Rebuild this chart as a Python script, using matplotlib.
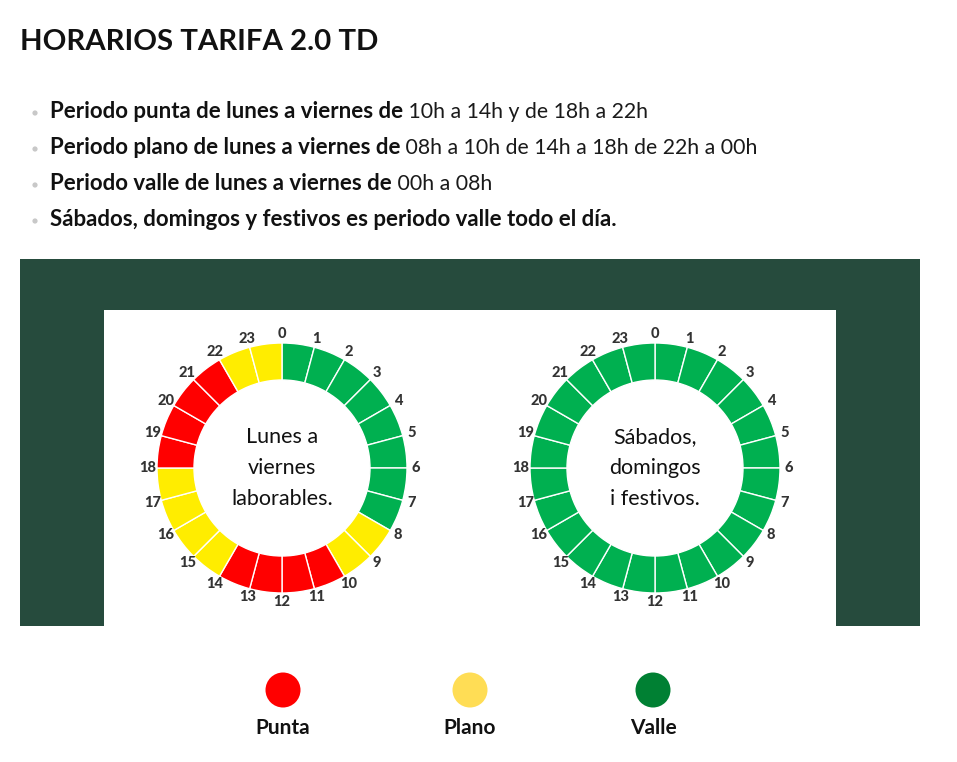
import matplotlib.pyplot as plt
from matplotlib.patches import Rectangle, Circle
import numpy as np

plt.rcParams['font.family'] = ['Lato', 'DejaVu Sans']

# data
hours = list(range(24))
weekday_periods = ['valle'] * 8 + ['plano'] * 2 + ['punta'] * 4 + ['plano'] * 4 + ['punta'] * 4 + ['plano'] * 2
weekend_periods = ['valle'] * 24
ring_colors = {'punta': '#ff0000', 'plano': '#ffed00', 'valle': '#00b050'}

legend_labels = ['Punta', 'Plano', 'Valle']
legend_colors = ['#ff0000', '#ffdd55', '#008033']

title = 'HORARIOS TARIFA 2.0 TD'
bullets_bold = ['Periodo punta de lunes a viernes de',
                'Periodo plano de lunes a viernes de',
                'Periodo valle de lunes a viernes de',
                'Sábados, domingos y festivos es periodo valle todo el día.']
bullets_regular = [' 10h a 14h y de 18h a 22h',
                   ' 08h a 10h de 14h a 18h de 22h a 00h',
                   ' 00h a 08h',
                   '']
centre_texts = ['Lunes a\nviernes\nlaborables.', 'Sábados,\ndomingos\ni festivos.']

fig = plt.figure(figsize=(9.57, 7.62), dpi=100)
ax = fig.add_axes([0, 0, 1, 1])

# header text
ax.text(20, 42, title, fontsize=21.2, fontweight='bold', color='#111111', va='center', ha='left')
for i, (b, r) in enumerate(zip(bullets_bold, bullets_regular)):
    y = 112 + 36 * i
    ax.add_patch(Circle((35, y + 1), 2.6, color='#c8c8c8', lw=0))
    t = ax.text(50, y, b, fontsize=16, fontweight='bold', color='#111111', va='center', ha='left')
    if r:
        ax.annotate(r, xy=(1, 0), xycoords=t, fontsize=15.3, fontweight='normal',
                    color='#1a1a1a', va='bottom', ha='left')

# panel
ax.add_patch(Rectangle((20, 259), 900, 367, color='#264b3d', lw=0))
ax.add_patch(Rectangle((104, 310), 732, 316, color='white', lw=0))

centres = [(282, 468), (655, 468)]
for (cx, cy), periods, label in zip(centres, [weekday_periods, weekend_periods], centre_texts):
    ax.pie([1] * len(hours), colors=[ring_colors[p] for p in periods],
           center=(cx, cy), radius=125, startangle=-90, counterclock=True,
           wedgeprops=dict(width=37, edgecolor='white', linewidth=1.0))
    for h in hours:
        a = np.deg2rad(-90 + 15 * h)
        ax.text(cx + 134 * np.cos(a), cy + 134 * np.sin(a), str(h), fontsize=10.5,
                fontweight='black', color='#333333', ha='center', va='center')
    ax.text(cx, cy, label, fontsize=15.5, color='#111111', ha='center', va='center',
            linespacing=1.68)

# legend
for x, lab, col in zip([283, 470, 653], legend_labels, legend_colors):
    ax.add_patch(Circle((x, 690), 17.5, color=col, lw=0))
    ax.text(x, 728, lab, fontsize=15, fontweight='bold', color='#111111', ha='center', va='center')

ax.set_xlim(0, 957)
ax.set_ylim(762, 0)
ax.set_aspect('equal')
ax.axis('off')

fig.savefig('out.png', dpi=100, facecolor='white')
